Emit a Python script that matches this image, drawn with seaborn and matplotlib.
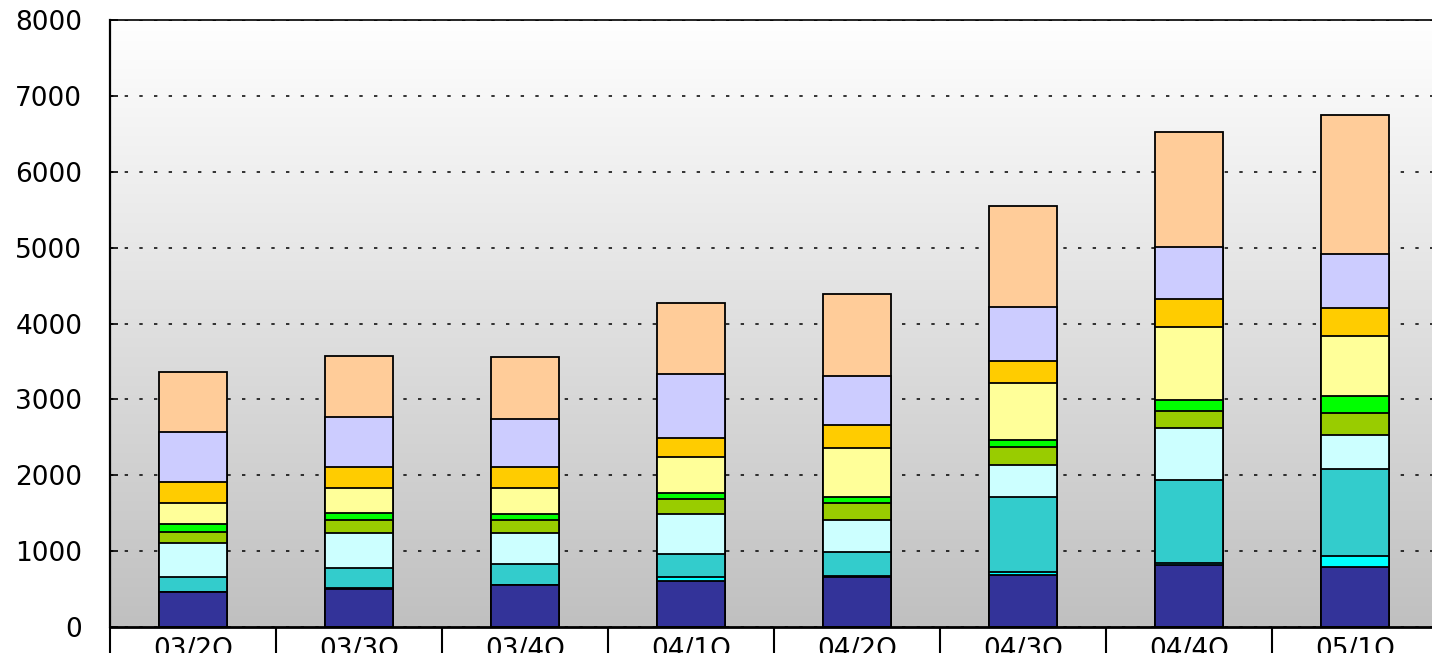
import numpy as np
import pandas as pd
import seaborn as sns
import matplotlib.pyplot as plt
from matplotlib.colors import LinearSegmentedColormap

quarters = ["03/2Q", "03/3Q", "03/4Q", "04/1Q", "04/2Q", "04/3Q", "04/4Q", "05/1Q"]

# stacked segments, bottom to top
navy = [457, 500, 558, 610, 655, 690, 815, 793]
cyan = [0, 20, 0, 45, 20, 35, 25, 148]
teal = [202, 262, 277, 303, 310, 985, 1103, 1135]
light_cyan = [448, 453, 400, 528, 426, 426, 677, 452]
olive = [150, 176, 176, 202, 228, 233, 233, 298]
green = [105, 96, 75, 75, 71, 96, 145, 224]
light_yellow = [277, 330, 351, 474, 654, 748, 956, 783]
gold = [277, 276, 276, 251, 299, 298, 373, 373]
lavender = [651, 652, 625, 848, 650, 704, 686, 704]
peach = [795, 808, 826, 932, 1077, 1335, 1507, 1838]

series = [navy, cyan, teal, light_cyan, olive, green, light_yellow, gold, lavender, peach]
colors = ["#333399", "#00FFFF", "#33CCCC", "#CCFFFF", "#99CC00",
          "#00FF00", "#FFFF99", "#FFCC00", "#CCCCFF", "#FFCC99"]

y_ticks = [0, 1000, 2000, 3000, 4000, 5000, 6000, 7000, 8000]

sns.set_style("white")
plt.rcParams["font.family"] = ["DejaVu Sans"]

df = pd.DataFrame(np.array(series).T, index=quarters)
cum = df.cumsum(axis=1)

fig = plt.figure(figsize=(14.32, 6.53), dpi=100)
ax = fig.add_axes([110 / 1432, 26 / 653, 1328 / 1432, 607 / 653])

# gradient background, white at top to gray at bottom
grad = np.linspace(1.0, 0.0, 256).reshape(-1, 1)
bg_cmap = LinearSegmentedColormap.from_list("bg", ["#C0C0C0", "#FFFFFF"])
ax.imshow(grad, extent=(-0.5, 7.5, 0, 8000), aspect="auto",
          cmap=bg_cmap, zorder=-2, origin="upper")

# draw cumulative totals from the top segment down, each overlaying the last
for i in range(len(series) - 1, -1, -1):
    sns.barplot(x=quarters, y=cum[i].values, color=colors[i], saturation=1,
                width=0.415, edgecolor="black", linewidth=1.3, errorbar=None,
                ax=ax, zorder=2)

ax.set_xlim(-0.5, 7.5)
ax.set_ylim(0, 8000)
ax.set_yticks(y_ticks)
ax.set_yticklabels([str(v) for v in y_ticks], fontsize=19)
ax.yaxis.grid(True, color="black", linestyle=(0, (2.2, 7.4)), linewidth=1.1, zorder=-1)
ax.set_axisbelow(True)

ax.set_xticks(range(len(quarters)))
ax.set_xticklabels(quarters, fontsize=19)
ax.set_xticks(np.arange(-0.5, len(quarters), 1), minor=True)
ax.tick_params(axis="x", which="major", bottom=True, length=0, pad=7, labelcolor="black")
ax.tick_params(axis="x", which="minor", bottom=True, length=40, width=1.5,
               direction="out", color="black")
ax.tick_params(axis="y", which="major", left=True, length=6, width=1.2,
               direction="in", pad=20, color="black", labelcolor="black")
ax.set_xlabel("")
ax.set_ylabel("")

for side in ["left", "top", "bottom"]:
    ax.spines[side].set_color("black")
ax.spines["left"].set_linewidth(1.6)
ax.spines["top"].set_linewidth(1.2)
ax.spines["bottom"].set_linewidth(2)
ax.spines["right"].set_visible(False)

fig.savefig("out.png", dpi=100)
plt.close()
